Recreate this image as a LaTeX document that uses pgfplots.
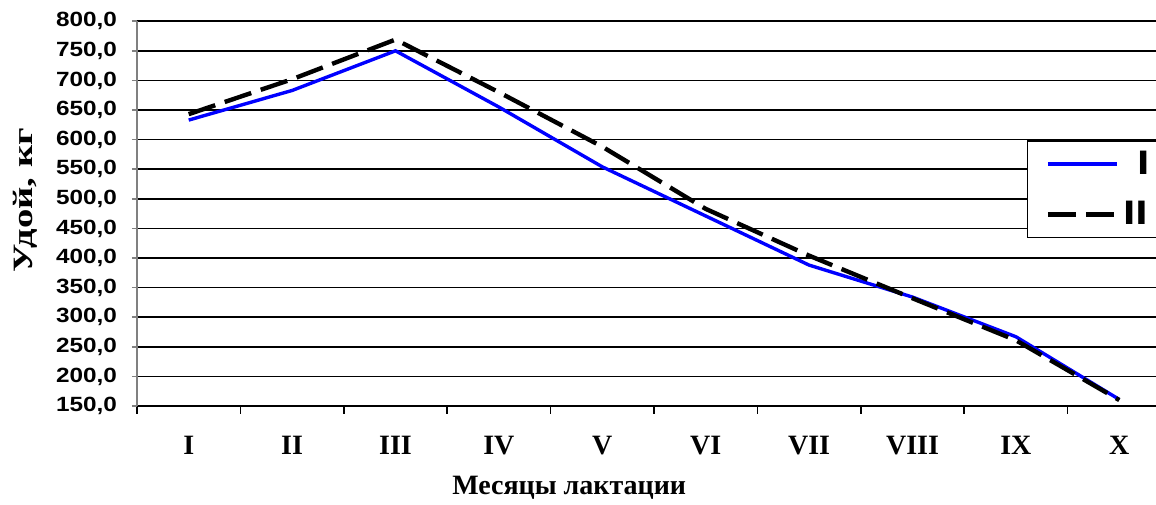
\documentclass[border=0pt]{standalone}
\usepackage{fontspec}
\setmainfont{Liberation Serif}
\newfontfamily\tsans[FakeStretch=1.18]{Liberation Sans}
\newfontfamily\lsans[FakeStretch=1.3]{Liberation Sans}
\newfontfamily\ylabfont[FakeStretch=1.38]{Liberation Serif}
\usepackage{pgfplots}
\pgfplotsset{compat=1.18}
\definecolor{lineblue}{RGB}{0,0,255}
\begin{document}
\begin{tikzpicture}
\begin{axis}[
  scale only axis, width=517pt, height=192.4pt,
  xmin=0.5, xmax=10.5, ymin=150, ymax=800,
  axis lines=left, axis line style={-},
  x axis line style={black, line width=1pt},
  y axis line style={gray, line width=1pt},
  tick align=outside,
  xtick={1,...,10}, xticklabels={I,II,III,IV,V,VI,VII,VIII,IX,X},
  major x tick style={draw=none},
  minor xtick={0.5,1.5,...,10.5},
  minor x tick style={black, line width=0.8pt},
  minor tick length=3.8pt,
  major tick length=2.5pt,
  ytick={150,200,...,800},
  major y tick style={gray, line width=0.75pt},
  ymajorgrids, major grid style={black, line width=0.85pt},
  xticklabel style={font=\bfseries\fontsize{14}{14}\selectfont, yshift=-9pt},
  yticklabel style={font=\tsans\bfseries\fontsize{10.3}{11}\selectfont, xshift=-4pt,
    /pgf/number format/fixed, /pgf/number format/fixed zerofill,
    /pgf/number format/precision=1, /pgf/number format/use comma,
    /pgf/number format/1000 sep={}, /pgf/number format/assume math mode=true},
  xlabel={Месяцы лактации},
  ylabel={Удой, кг},
  xlabel style={font=\bfseries\fontsize{14}{14}\selectfont, at={(axis description cs:0.418,-0.2135)}, anchor=center},
  ylabel style={font=\ylabfont\bfseries\fontsize{14}{14}\selectfont, at={(axis description cs:-0.1083,0.534)}, anchor=center},
  legend style={at={(axis description cs:0.8607,0.691)}, anchor=north west,
    draw=black, line width=0.75pt, fill=white,
    font=\lsans\bfseries\fontsize{17}{17}\selectfont,
    inner xsep=9pt, inner ysep=3pt, row sep=8pt},
  legend cell align=left,
  legend image code/.code={\draw[#1] (0pt,0pt) -- (34.5pt,0pt);},
]
\addplot[lineblue, line width=1.7pt] coordinates {(1,633)(2,683)(3,750)(4,655)(5,554)(6,471)(7,388)(8,334)(9,267)(10,161)};
\addlegendentry{\hspace*{7pt}I}
\addplot[black, line width=2.2pt, dash pattern=on 14pt off 5pt] coordinates {(1,643)(2,702)(3,769)(4,680)(5,588)(6,483)(7,404)(8,332)(9,261)(10,160)};
\addlegendentry{II}
\coordinate (O) at (rel axis cs:0,0);
\end{axis}
\pgfresetboundingbox
\useasboundingbox ([shift={(-68.5pt,-49pt)}]O) rectangle ++(578pt,252pt);
\end{tikzpicture}
\end{document}
